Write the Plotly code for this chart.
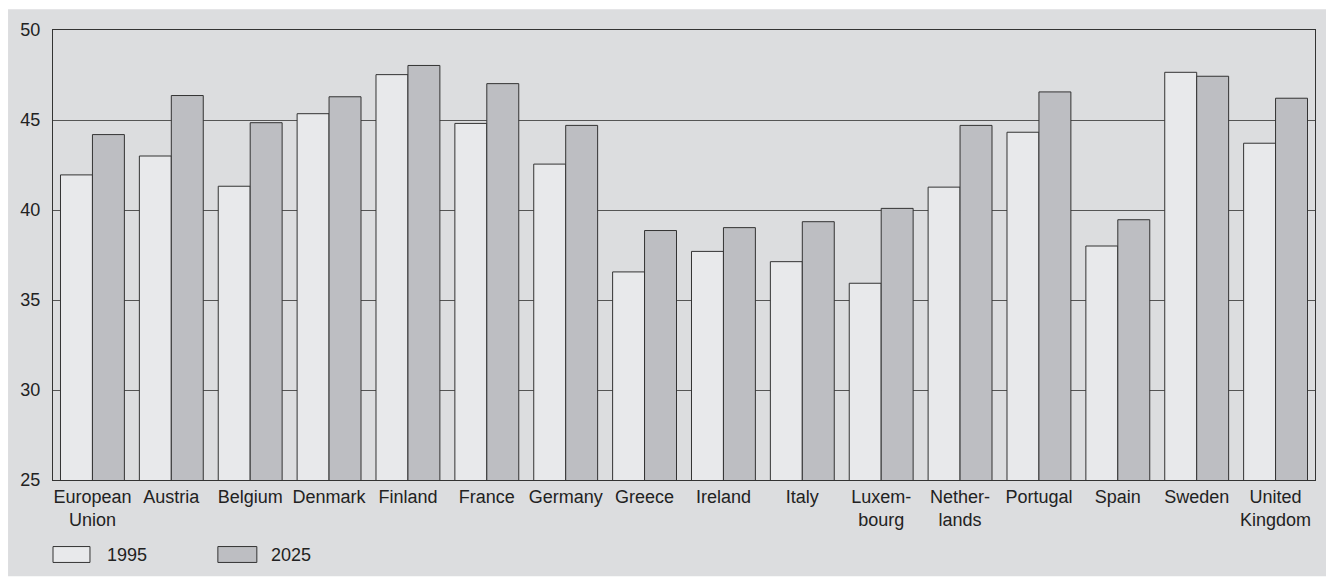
import plotly.graph_objects as go

countries = ["European<br>Union", "Austria", "Belgium", "Denmark", "Finland", "France",
             "Germany", "Greece", "Ireland", "Italy", "Luxem-<br>bourg", "Nether-<br>lands",
             "Portugal", "Spain", "Sweden", "United<br>Kingdom"]
values_1995 = [41.95, 43.0, 41.32, 45.35, 47.52, 44.81, 42.55, 36.56, 37.70, 37.13,
               35.93, 41.27, 44.32, 38.0, 47.65, 43.71]
values_2025 = [44.19, 46.36, 44.85, 46.29, 48.03, 47.02, 44.70, 38.86, 39.02, 39.35,
               40.09, 44.70, 46.56, 39.46, 47.43, 46.21]
series_names = ["1995", "2025"]
y_ticks = [25, 30, 35, 40, 45, 50]

FONT = "Liberation Sans, Arial, sans-serif"
TXT = "#222222"
C1995 = "#e8e9eb"
C2025 = "#bdbec2"
EDGE = "#333333"
BG = "#dcdddf"

fig = go.Figure()
fig.add_trace(go.Bar(x=countries, y=values_1995, name=series_names[0],
                     marker=dict(color=C1995, line=dict(color=EDGE, width=1))))
fig.add_trace(go.Bar(x=countries, y=values_2025, name=series_names[1],
                     marker=dict(color=C2025, line=dict(color=EDGE, width=1))))

# page body has an 8px margin; figure is sized to fill the rest of the window
OFF = 8
W, H = 1334 - OFF, 579 - OFF
L, R, T, B = 52 - OFF, W - (1315 - OFF), 27 - OFF, H - (480 - OFF)
pw = W - L - R
ph = H - T - B

def px2x(px):
    return (px - OFF - L) / pw

def py2y(py):
    return (H - B - (py - OFF)) / ph

shapes = [
    dict(type="rect", xref="paper", yref="paper", layer="below",
         x0=px2x(7), x1=px2x(1330), y0=py2y(577), y1=py2y(6),
         fillcolor=BG, line=dict(width=0)),
]
annotations = []
legend_items = [(series_names[0], C1995, 52, 89, 104), (series_names[1], C2025, 217, 256, 268)]
for name, col, x0, x1, tx in legend_items:
    shapes.append(dict(type="rect", xref="paper", yref="paper",
                       x0=px2x(x0), x1=px2x(x1), y0=py2y(563), y1=py2y(547),
                       fillcolor=col, line=dict(color=EDGE, width=1)))
    annotations.append(dict(xref="paper", yref="paper", x=px2x(tx), y=py2y(555),
                            text=name, showarrow=False, xanchor="left", yanchor="middle",
                            font=dict(family=FONT, size=18, color=TXT)))

fig.update_layout(
    width=W, height=H,
    margin=dict(l=L, r=R, t=T, b=B),
    paper_bgcolor="white",
    plot_bgcolor="white",
    barmode="group",
    bargap=0.19,
    bargroupgap=0,
    showlegend=False,
    font=dict(family=FONT, size=18, color=TXT),
    shapes=shapes,
    annotations=annotations,
)
fig.update_xaxes(showline=True, linecolor=EDGE, linewidth=1, mirror=True,
                 showgrid=False, ticks="", tickfont=dict(family=FONT, size=18, color=TXT))
fig.update_yaxes(range=[25, 50], tickvals=y_ticks, showline=True, linecolor=EDGE,
                 linewidth=1, mirror=True, showgrid=True, gridcolor="#555555", gridwidth=1,
                 ticks="", ticklabelstandoff=8, zeroline=False,
                 tickfont=dict(family=FONT, size=18, color=TXT))

fig.write_html("out.html")
